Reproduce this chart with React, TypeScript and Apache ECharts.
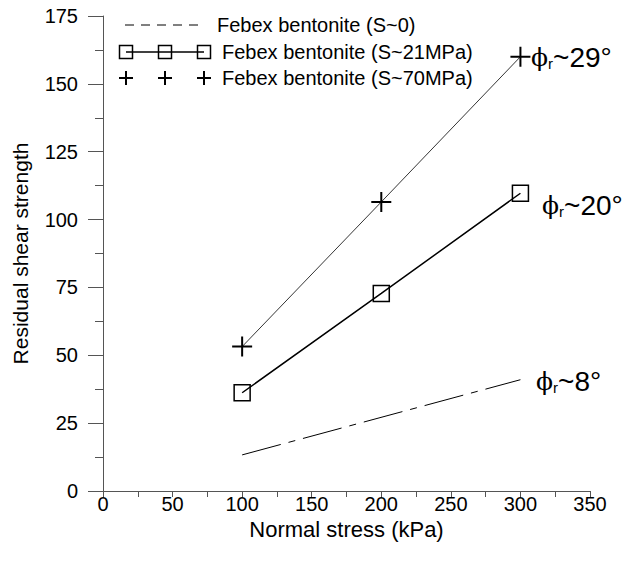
import React, { useEffect, useRef } from 'react';
import * as echarts from 'echarts';

const stressS0 = [100, 300];
const strengthS0 = [13.3, 41];
const stressS21 = [100, 200, 300];
const strengthS21 = [36.2, 72.8, 109.7];
const stressS70 = [100, 200, 300];
const strengthS70 = [53.2, 106.5, 160];
const legendLabels = ['Febex bentonite (S~0)', 'Febex bentonite (S~21MPa)', 'Febex bentonite (S~70MPa)'];
const angleLabels = ['~29°', '~20°', '~8°'];

const FONT = '"Liberation Sans", Arial, sans-serif';
const PLUS = 'path://M9,0H11V9H20V11H11V20H9V11H0V9H9Z';

function zip(xs: number[], ys: number[]) {
  return xs.map((x, i) => [x, ys[i]]);
}

function plusShape(cx: number, cy: number, half: number) {
  return [
    { type: 'line', shape: { x1: cx - half, y1: cy, x2: cx + half, y2: cy }, style: { stroke: '#000', lineWidth: 2 } },
    { type: 'line', shape: { x1: cx, y1: cy - half, x2: cx, y2: cy + half }, style: { stroke: '#000', lineWidth: 2 } },
  ];
}

function phiText(x: number, y: number, tail: string) {
  return {
    type: 'text',
    x,
    y,
    style: {
      text: '{p|ϕ}{r|r}{t|' + tail + '}',
      verticalAlign: 'middle',
      rich: {
        p: { fontFamily: '"DejaVu Serif", serif', fontSize: 25, fill: '#000' },
        r: { fontFamily: FONT, fontSize: 15, fill: '#000', verticalAlign: 'bottom', padding: [9, 0, 0, 0] },
        t: { fontFamily: FONT, fontSize: 28, fill: '#000' },
      },
    },
  };
}

export default function App() {
  const ref = useRef<HTMLDivElement>(null);
  useEffect(() => {
    if (!ref.current) return;
    document.body.style.margin = '0';
    const chart = echarts.init(ref.current, null, { renderer: 'svg' });
    const legendRows = [25, 52, 78];
    const graphic: any[] = [
      { type: 'line', shape: { x1: 125, y1: legendRows[0], x2: 200, y2: legendRows[0] }, style: { stroke: '#000', lineWidth: 1, lineDash: [9, 7] } },
      { type: 'line', shape: { x1: 126, y1: legendRows[1], x2: 204, y2: legendRows[1] }, style: { stroke: '#000', lineWidth: 1.5 } },
      ...[126, 165, 204].map((cx) => ({
        type: 'rect', shape: { x: cx - 6.5, y: legendRows[1] - 6.5, width: 13, height: 13 }, style: { fill: 'none', stroke: '#000', lineWidth: 1.5 },
      })),
      ...[126, 165, 204].flatMap((cx) => plusShape(cx, legendRows[2], 7)),
      ...legendLabels.map((t, i) => ({
        type: 'text', x: i === 0 ? 217 : 222, y: legendRows[i],
        style: { text: t, fontFamily: FONT, fontSize: 20, fill: '#000', verticalAlign: 'middle' },
      })),
      phiText(531, 57, angleLabels[0]),
      phiText(542, 205, angleLabels[1]),
      phiText(536, 381, angleLabels[2]),
    ];
    chart.setOption({
      animation: false,
      backgroundColor: '#fff',
      grid: { left: 103, right: 35, top: 16, bottom: 72 },
      xAxis: {
        type: 'value', min: 0, max: 350, interval: 50,
        name: 'Normal stress (kPa)', nameLocation: 'middle', nameGap: 14,
        nameTextStyle: { fontFamily: FONT, fontSize: 22, color: '#000' },
        axisLine: { show: true, lineStyle: { color: '#555', width: 1 } },
        axisTick: { show: true, length: 6, lineStyle: { color: '#555' } },
        minorTick: { show: true, splitNumber: 2, length: 6, lineStyle: { color: '#555' } },
        splitLine: { show: false },
        axisLabel: { fontFamily: FONT, fontSize: 20, color: '#000', margin: 3 },
      },
      yAxis: {
        type: 'value', min: 0, max: 175, interval: 25,
        name: 'Residual shear strength', nameLocation: 'middle', nameGap: 72,
        nameTextStyle: { fontFamily: FONT, fontSize: 21, color: '#000' },
        axisLine: { show: true, lineStyle: { color: '#555', width: 1 } },
        axisTick: { show: true, length: 15, lineStyle: { color: '#555' } },
        minorTick: { show: true, splitNumber: 2, length: 8, lineStyle: { color: '#555' } },
        splitLine: { show: false },
        axisLabel: { fontFamily: FONT, fontSize: 20, color: '#000', margin: 25 },
      },
      series: [
        {
          type: 'line', data: zip(stressS0, strengthS0), symbol: 'none',
          lineStyle: { color: '#000', width: 1, type: [40, 8, 7, 8] },
        },
        {
          type: 'line', data: zip(stressS21, strengthS21), symbol: 'rect', symbolSize: 16,
          lineStyle: { color: '#000', width: 1.5 },
          itemStyle: { color: 'rgba(0,0,0,0)', borderColor: '#000', borderWidth: 1.5 },
        },
        {
          type: 'line', data: zip(stressS70, strengthS70), symbol: PLUS, symbolSize: 20,
          lineStyle: { color: '#000', width: 0.8 },
          itemStyle: { color: '#000' },
        },
      ],
      graphic,
    });
    return () => chart.dispose();
  }, []);
  return <div ref={ref} style={{ width: 625, height: 563 }} />;
}
